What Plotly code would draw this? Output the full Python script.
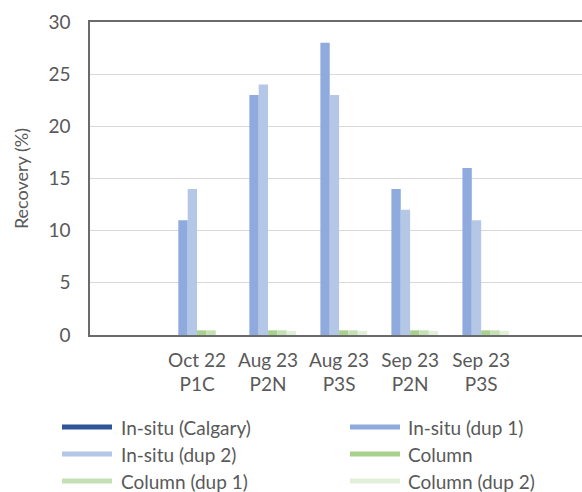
import plotly.graph_objects as go

# Sampling events and recoveries (%)
categories = ["Oct 22<br>P1C", "Aug 23<br>P2N", "Aug 23<br>P3S", "Sep 23<br>P2N", "Sep 23<br>P3S"]
series_names = ["In-situ (Calgary)", "In-situ (dup 1)", "In-situ (dup 2)",
                "Column", "Column (dup 1)", "Column (dup 2)"]
insitu_calgary = [None, None, None, None, None]
insitu_dup1 = [11, 23, 28, 14, 16]
insitu_dup2 = [14, 24, 23, 12, 11]
column = [0.45, 0.45, 0.45, 0.45, 0.45]
column_dup1 = [0.45, 0.45, 0.45, 0.45, 0.45]
column_dup2 = [None, 0.4, 0.4, 0.4, 0.4]
colors = ["#2F5597", "#8FAADC", "#B4C7E7", "#A9D18E", "#C5E0B4", "#E2F0D9"]

values = [insitu_calgary, insitu_dup1, insitu_dup2, column, column_dup1, column_dup2]

W, H = 582, 492
ML, MR, MT, MB = 90, 0, 22, 157
FONT = "Lato"
GREY = "#595959"

fig = go.Figure()
for name, vals, col in zip(series_names, values, colors):
    fig.add_trace(go.Bar(x=categories, y=vals, name=name,
                         marker=dict(color=col, line=dict(width=0)),
                         showlegend=False))


def px_x(x):
    return (x - ML) / (W - ML - MR)


def px_y(y):
    return (H - MB - y) / (H - MT - MB)


# Legend drawn as wide swatches with labels, two columns
legend_cols = [(62, 112, 119), (350, 400, 406)]
legend_rows = [427, 454, 481]
shapes = []
annotations = []
for i, (name, col) in enumerate(zip(series_names, colors)):
    x0, x1, xt = legend_cols[i % 2]
    yc = legend_rows[i // 2]
    shapes.append(dict(type="rect", xref="paper", yref="paper",
                       x0=px_x(x0), x1=px_x(x1),
                       y0=px_y(yc + 2.5), y1=px_y(yc - 2.5),
                       fillcolor=col, line=dict(width=0), layer="above"))
    annotations.append(dict(xref="paper", yref="paper", x=px_x(xt), y=px_y(yc),
                            text=name, showarrow=False, xanchor="left",
                            yanchor="middle",
                            font=dict(family=FONT, size=19, color=GREY)))

fig.update_layout(
    width=W, height=H,
    margin=dict(l=ML, r=MR, t=MT, b=MB),
    plot_bgcolor="white", paper_bgcolor="white",
    barmode="group", bargap=0.21, bargroupgap=0,
    shapes=shapes, annotations=annotations,
    font=dict(family=FONT, size=19, color=GREY),
    xaxis=dict(range=[-1.507, 5.42], showline=True, mirror=True,
               linecolor="#6b6b6b", linewidth=1.5, showgrid=False,
               ticks="", ticklabelstandoff=7,
               tickfont=dict(family=FONT, size=19, color=GREY)),
    yaxis=dict(range=[0, 30], dtick=5, showline=True, linecolor="#6b6b6b",
               linewidth=1.5, showgrid=True, gridcolor="#d9d9d9", gridwidth=1,
               zeroline=False, ticks="", ticklabelstandoff=14,
               tickfont=dict(family=FONT, size=19, color=GREY),
               title=dict(text="Recovery (%)", standoff=15,
                          font=dict(family=FONT, size=18, color=GREY))),
)

fig.write_html("out.html")
